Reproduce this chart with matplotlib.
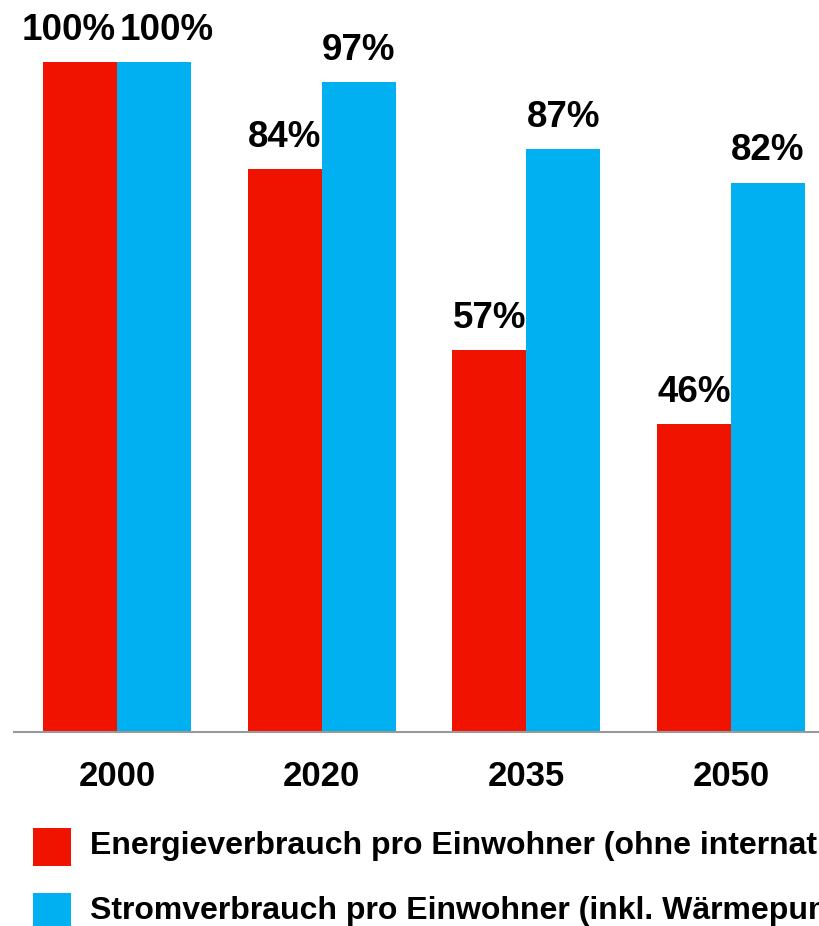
import matplotlib
matplotlib.use("Agg")
import matplotlib.pyplot as plt
from matplotlib.patches import Rectangle
import numpy as np

years = ["2000", "2020", "2035", "2050"]
energie = [100, 84, 57, 46]
strom = [100, 97, 87, 82]
legend_labels = ["Energieverbrauch pro Einwohner (ohne internationalen Flugverkehr)",
                 "Stromverbrauch pro Einwohner (inkl. Wärmepumpen und Elektromobilität)"]

RED = "#F01400"
BLUE = "#00B0F0"

plt.rcParams['font.family'] = ['Liberation Sans', 'DejaVu Sans']
plt.rcParams['font.weight'] = 'bold'

W, H = 819, 926
fig = plt.figure(figsize=(W/100, H/100), dpi=100)
ax = fig.add_axes([14/W, (H-732)/H, (W-14)/W, 670/H])

x = np.arange(len(years))
bw = 0.3616
ax.bar(x - bw/2, energie, width=bw, color=RED, linewidth=0)
ax.bar(x + bw/2, strom, width=bw, color=BLUE, linewidth=0)

fs_lab = 26.5
for i in range(len(years)):
    e, s = energie[i], strom[i]
    if e == s:
        # labels of equal height would collide: align them on the shared bar edge
        ax.annotate(f"{e}%", (x[i], e + 3.3), xytext=(-1, 0), textcoords='offset points',
                    ha='right', va='baseline', fontsize=fs_lab, fontweight='bold', annotation_clip=False)
        ax.annotate(f"{s}%", (x[i], s + 3.3), xytext=(2, 0), textcoords='offset points',
                    ha='left', va='baseline', fontsize=fs_lab, fontweight='bold', annotation_clip=False)
    else:
        ax.text(x[i] - bw/2, e + 3.3, f"{e}%", ha='center', va='baseline',
                fontsize=fs_lab, fontweight='bold', clip_on=False)
        ax.text(x[i] + bw/2, s + 3.3, f"{s}%", ha='center', va='baseline',
                fontsize=fs_lab, fontweight='bold', clip_on=False)

ax.set_xlim(-0.503, 3.430)
ax.set_ylim(0, 100)
ax.set_xticks(x)
ax.set_xticklabels(years, fontsize=25, fontweight='bold')
ax.tick_params(axis='x', length=0, pad=20)
ax.set_yticks([])
for s in ['top', 'right', 'left']:
    ax.spines[s].set_visible(False)
ax.spines['bottom'].set_color('#999999')
ax.spines['bottom'].set_linewidth(1.5)

# legend
for i, (lab, col) in enumerate(zip(legend_labels, [RED, BLUE])):
    top = 828 + i * 65
    fig.patches.append(Rectangle((33/W, (H - top - 38)/H), 38/W, 38/H,
                                 transform=fig.transFigure, color=col, linewidth=0))
    fig.text(90/W, (H - top - 18)/H, lab, ha='left', va='center',
             fontsize=23, fontweight='bold')

fig.savefig("out.png", dpi=100)
